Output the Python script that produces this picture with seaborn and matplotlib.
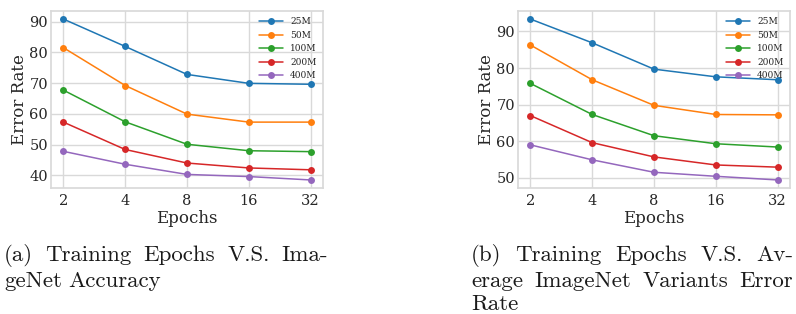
import matplotlib
matplotlib.use('Agg')
import matplotlib.pyplot as plt
import seaborn as sns

# Epoch sweep (x axis is log2 spaced)
epochs = [2, 4, 8, 16, 32]
sizes = ['25M', '50M', '100M', '200M', '400M']
colors = ['#1f77b4', '#ff7f0e', '#2ca02c', '#d62728', '#9467bd']

# (a) ImageNet error rate per data size
imagenet_25m = [90.8, 81.9, 72.8, 69.9, 69.6]
imagenet_50m = [81.5, 69.2, 59.9, 57.3, 57.3]
imagenet_100m = [67.7, 57.4, 50.1, 48.0, 47.7]
imagenet_200m = [57.3, 48.4, 44.0, 42.4, 41.8]
imagenet_400m = [47.8, 43.6, 40.3, 39.6, 38.5]

# (b) average ImageNet variants error rate per data size
variants_25m = [93.4, 86.9, 79.7, 77.6, 76.8]
variants_50m = [86.3, 76.8, 69.8, 67.3, 67.2]
variants_100m = [75.8, 67.3, 61.5, 59.3, 58.4]
variants_200m = [67.0, 59.6, 55.7, 53.5, 52.9]
variants_400m = [59.0, 54.9, 51.5, 50.4, 49.4]

panel_a = [imagenet_25m, imagenet_50m, imagenet_100m, imagenet_200m, imagenet_400m]
panel_b = [variants_25m, variants_50m, variants_100m, variants_200m, variants_400m]

sns.set_theme(style='whitegrid')
plt.rcParams['font.family'] = ['DejaVu Serif']

W, H = 796, 314
fig = plt.figure(figsize=(W / 100, H / 100), dpi=100)
ax1 = fig.add_axes([51 / W, 1 - 188 / H, 272 / W, 177 / H])
ax2 = fig.add_axes([518 / W, 1 - 188 / H, 272 / W, 177 / H])

for ax, panel in [(ax1, panel_a), (ax2, panel_b)]:
    for name, vals, c in zip(sizes, panel, colors):
        sns.lineplot(x=epochs, y=vals, ax=ax, color=c, marker='o', label=name,
                     linewidth=1.1, markersize=5, markeredgewidth=0)
    ax.set_xscale('log', base=2)
    ax.set_xticks(epochs, labels=[str(e) for e in epochs])
    ax.minorticks_off()
    ax.tick_params(labelsize=10.5, length=0, colors='.15')
    ax.tick_params(axis='x', pad=4.3)
    ax.tick_params(axis='y', pad=2.2)
    ax.set_xlabel('Epochs', fontsize=12, labelpad=1.5)
    ax.set_ylabel('Error Rate', fontsize=12, labelpad=1)
    ax.grid(True, color='.85', linewidth=1)
    for s in ax.spines.values():
        s.set_color('.85')
    ax.legend(loc='upper right', fontsize=6.5, frameon=False, handlelength=2.6,
              labelspacing=0.5, borderaxespad=0.3, handletextpad=0.8)

ax1.set_yticks([40, 50, 60, 70, 80, 90])
ax2.set_yticks([50, 60, 70, 80, 90])

# captions, justified like the LaTeX subfigure captions
renderer = fig.canvas.get_renderer()


def caption_line(words, x0, x1, baseline, justify=True):
    texts = [fig.text(0, 1 - baseline / H, w, fontsize=16.5, family='cmr10',
                      va='baseline', ha='left', color='.1') for w in words]
    widths = [t.get_window_extent(renderer).width for t in texts]
    if justify and len(words) > 1:
        gap = (x1 - x0 - sum(widths)) / (len(words) - 1)
    else:
        gap = 6.5
    x = x0
    for t, w in zip(texts, widths):
        t.set_x(x / W)
        x += w + gap


caption_line(['(a)', 'Training', 'Epochs', 'V.S.', 'Ima-'], 4, 328, 261)
caption_line(['geNet', 'Accuracy'], 4, 328, 287, justify=False)
caption_line(['(b)', 'Training', 'Epochs', 'V.S.', 'Av-'], 471, 793, 261)
caption_line(['erage', 'ImageNet', 'Variants', 'Error'], 471, 793, 287)
caption_line(['Rate'], 471, 793, 310, justify=False)

fig.savefig('out.png', dpi=100)
